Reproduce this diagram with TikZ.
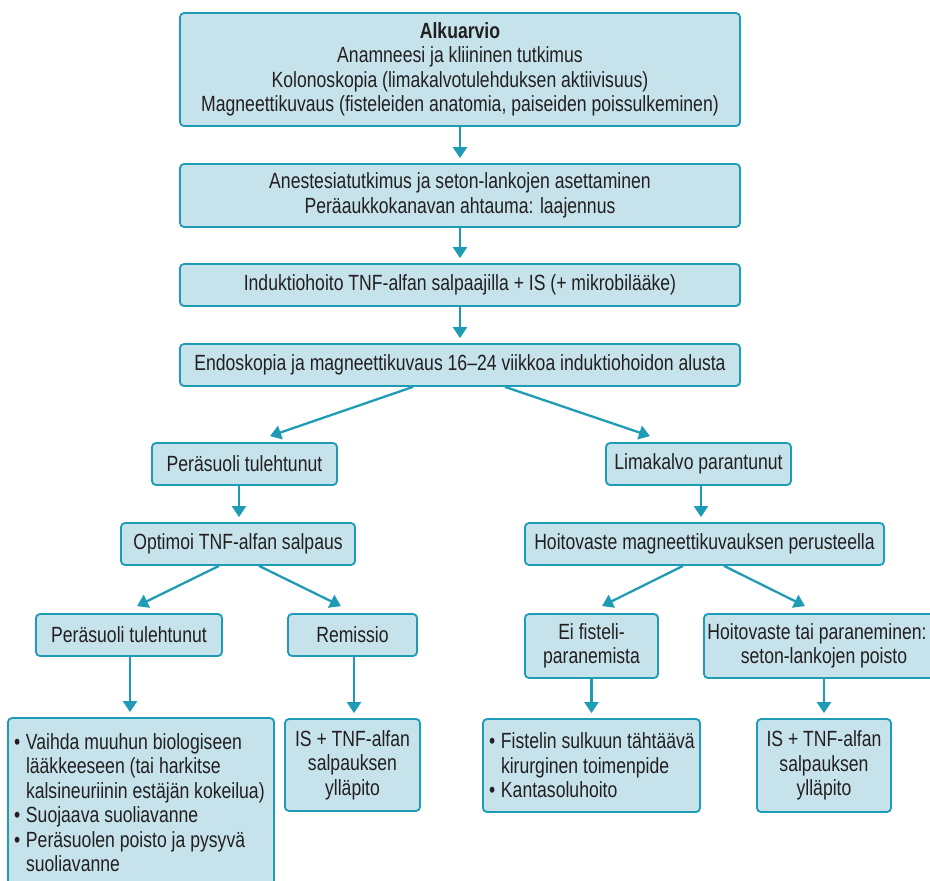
\documentclass[tikz,border=0pt]{standalone}
\usepackage{fontspec}
\setmainfont{Liberation Sans}[FakeStretch=0.8]
\usetikzlibrary{arrows.meta}
\definecolor{boxfill}{HTML}{C6E3EC}
\definecolor{boxline}{HTML}{1E9CB6}
\definecolor{txt}{HTML}{231F20}
\newcommand\bul[1]{\mbox{\makebox[12pt][l]{•}#1}}
\newcommand\ind[1]{\mbox{\hspace*{12pt}#1}}
\begin{document}
\begin{tikzpicture}[x=1pt,y=-1pt,
  box/.style={draw=boxline, fill=boxfill, line width=1.8pt, rounded corners=4pt,
    text=txt, font=\fontsize{22}{24.5}\selectfont, align=center, inner sep=0pt},
  listbox/.style={box, align=flush left, inner xsep=6pt, inner ysep=0pt},
  arr/.style={draw=boxline, line width=2.3pt, -{Triangle[width=14pt,length=11pt]}},
  varr/.style={arr, shorten >=5pt}]
\useasboundingbox (0,0) rectangle (930,881);

\node[box, minimum width=560pt, minimum height=113pt] (n1) at (460,69.5)
  {\textbf{Alkuarvio}\\Anamneesi ja kliininen tutkimus\\Kolonoskopia (limakalvotulehduksen aktiivisuus)\\Magneettikuvaus (fisteleiden anatomia, paiseiden poissulkeminen)};
\node[box, minimum width=560pt, minimum height=63pt] (n2) at (460,195.5)
  {Anestesiatutkimus ja seton-lankojen asettaminen\\Peräaukkokanavan ahtauma: laajennus};
\node[box, minimum width=560pt, minimum height=42pt] (n3) at (460,285)
  {Induktiohoito TNF-alfan salpaajilla + IS (+ mikrobilääke)};
\node[box, minimum width=560pt, minimum height=42pt] (n4) at (460,365)
  {Endoskopia ja magneettikuvaus 16–24 viikkoa induktiohoidon alusta};

\node[box, minimum width=185pt, minimum height=42pt] (p1) at (244.5,464) {Peräsuoli tulehtunut};
\node[box, minimum width=185pt, minimum height=42pt] (l1) at (698.5,464) {Limakalvo parantunut};

\node[box, minimum width=234pt, minimum height=42pt] (opt) at (238,544) {Optimoi TNF-alfan salpaus};
\node[box, minimum width=359pt, minimum height=42pt] (hoi) at (704.5,544) {Hoitovaste magneettikuvauksen perusteella};

\node[box, minimum width=186pt, minimum height=42pt] (p2) at (129,635) {Peräsuoli tulehtunut};
\node[box, minimum width=129pt, minimum height=42pt] (rem) at (352.5,635) {Remissio};
\node[box, minimum width=133pt, minimum height=64pt] (ei) at (591.5,646) {Ei fisteli-\\paranemista};
\node[box, minimum width=240pt, minimum height=64pt] (hv) at (824,646) {\hspace*{-14pt}Hoitovaste tai paraneminen:\\seton-lankojen poisto};

\node[listbox, text width=254pt, minimum height=169pt] (lb) at (141,802.5)
  {\bul{Vaihda muuhun biologiseen}\\\ind{lääkkeeseen (tai harkitse}\\\ind{kalsineuriinin estäjän kokeilua)}\\\bul{Suojaava suoliavanne}\\\bul{Peräsuolen poisto ja pysyvä}\\\ind{suoliavanne}};
\node[box, minimum width=135pt, minimum height=92pt] (isl) at (352.5,765) {IS + TNF-alfan\\salpauksen\\ylläpito};
\node[listbox, text width=205pt, minimum height=93pt] (fis) at (591.5,765.5)
  {\bul{Fistelin sulkuun tähtäävä}\\\ind{kirurginen toimenpide}\\\bul{Kantasoluhoito}};
\node[box, minimum width=134pt, minimum height=93pt] (isr) at (824,765.5) {IS + TNF-alfan\\salpauksen\\ylläpito};

\draw[varr] (n1.south) -- (n2.north);
\draw[varr] (n2.south) -- (n3.north);
\draw[varr] (n3.south) -- (n4.north);
\draw[arr] ([xshift=-47pt]n4.south) -- ([xshift=25.5pt,yshift=6pt]p1.north);
\draw[arr] ([xshift=45pt]n4.south) -- ([xshift=-48.5pt,yshift=6pt]l1.north);
\draw[varr] ([xshift=-5.5pt]p1.south) -- ([xshift=1pt]opt.north);
\draw[varr] ([xshift=2.5pt]l1.south) -- ([xshift=-3.5pt]hoi.north);
\draw[arr] ([xshift=-19pt]opt.south) -- ([xshift=8pt,yshift=7pt]p2.north);
\draw[arr] ([xshift=21pt]opt.south) -- ([xshift=-11.5pt,yshift=7pt]rem.north);
\draw[arr] ([xshift=-21.5pt]hoi.south) -- ([xshift=10.5pt,yshift=7pt]ei.north);
\draw[arr] ([xshift=19.5pt]hoi.south) -- ([xshift=-19pt,yshift=7pt]hv.north);
\draw[varr] ([xshift=1pt]p2.south) -- ([xshift=-11pt]lb.north);
\draw[varr] ([xshift=1.5pt]rem.south) -- ([xshift=1.5pt]isl.north);
\draw[varr] (ei.south) -- (fis.north);
\draw[varr] (hv.south) -- (isr.north);
\end{tikzpicture}
\end{document}
